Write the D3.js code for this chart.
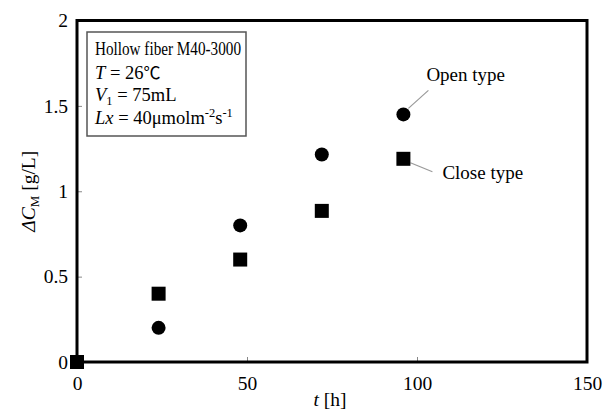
<!DOCTYPE html>
<html>
<head>
<meta charset="utf-8">
<script src="https://cdn.jsdelivr.net/npm/d3@7"></script>
<style>
  body { margin: 0; background: #fff; }
  svg text { font-family: "Liberation Serif", "Times New Roman", serif; }
</style>
</head>
<body>
<svg width="606" height="412"></svg>
<script>
// data
const times = [0, 24, 48, 72, 96]
const openType = [0, 0.2, 0.8, 1.215, 1.45]
const closeType = [0, 0.4, 0.6, 0.885, 1.19]
const xTicks = [0, 50, 100, 150]
const yTicks = [0, 0.5, 1, 1.5, 2]

const W = 606, H = 412
const margin = {top: 20.5, right: 19, bottom: 50, left: 77}
const svg = d3.select("svg")

const x = d3.scaleLinear().domain([0, 150]).range([margin.left, W - margin.right])
const y = d3.scaleLinear().domain([0, 2]).range([H - margin.bottom, margin.top])

// inside ticks
const xAxis = svg.append("g")
  .attr("transform", `translate(0,${y(0)})`)
  .call(d3.axisBottom(x).tickValues(xTicks).tickSize(-5).tickSizeOuter(0).tickPadding(14).tickFormat(d3.format("")))
const yAxis = svg.append("g")
  .attr("transform", `translate(${x(0)},0)`)
  .call(d3.axisLeft(y).tickValues(yTicks).tickSize(-5).tickSizeOuter(0).tickPadding(9).tickFormat(d3.format("")))

for (const a of [xAxis, yAxis]) {
  a.attr("font-family", null)
  a.select(".domain").remove()
  a.selectAll(".tick line").attr("stroke", "#888").attr("stroke-width", 1)
  a.selectAll(".tick text").attr("font-size", 19.5).attr("fill", "#000")
}

// frame
svg.append("rect")
  .attr("x", x(0)).attr("y", y(2))
  .attr("width", x(150) - x(0)).attr("height", y(0) - y(2))
  .attr("fill", "none").attr("stroke", "#000").attr("stroke-width", 3)

// leader lines
svg.append("line")
  .attr("x1", x(96) + 5).attr("y1", y(openType[4]) - 6)
  .attr("x2", x(96) + 25).attr("y2", y(openType[4]) - 24)
  .attr("stroke", "#999").attr("stroke-width", 1.2)
svg.append("line")
  .attr("x1", x(96) + 7).attr("y1", y(closeType[4]) + 4)
  .attr("x2", x(96) + 29).attr("y2", y(closeType[4]) + 13)
  .attr("stroke", "#999").attr("stroke-width", 1.2)

// points
svg.selectAll("circle.open")
  .data(times.map((t, i) => [t, openType[i]]))
  .join("circle")
  .attr("class", "open")
  .attr("cx", d => x(d[0])).attr("cy", d => y(d[1]))
  .attr("r", 7).attr("fill", "#000")

const sq = 14
svg.selectAll("rect.close")
  .data(times.map((t, i) => [t, closeType[i]]))
  .join("rect")
  .attr("class", "close")
  .attr("x", d => x(d[0]) - sq / 2).attr("y", d => y(d[1]) - sq / 2)
  .attr("width", sq).attr("height", sq).attr("fill", "#000")

// series labels
svg.append("text")
  .attr("x", x(96) + 23).attr("y", 81)
  .attr("font-size", 19).text("Open type")
svg.append("text")
  .attr("x", x(96) + 39).attr("y", 179)
  .attr("font-size", 19).text("Close type")

// condition box
svg.append("rect")
  .attr("x", 87).attr("y", 32).attr("width", 159).attr("height", 104)
  .attr("fill", "#fff").attr("stroke", "#555").attr("stroke-width", 1.5)

const box = svg.append("g").attr("font-size", 18.5)
box.append("text").attr("x", 95).attr("y", 55)
  .attr("textLength", 146).attr("lengthAdjust", "spacingAndGlyphs")
  .text("Hollow fiber M40-3000")
let t2 = box.append("text").attr("x", 95).attr("y", 79)
t2.append("tspan").attr("font-style", "italic").text("T")
t2.append("tspan").text(" = 26")
t2.append("tspan").attr("font-family", "Noto Sans CJK JP").attr("font-size", 17).text("℃")
let t3 = box.append("text").attr("x", 95).attr("y", 101)
t3.append("tspan").attr("font-style", "italic").text("V")
t3.append("tspan").attr("font-size", 12.5).attr("dy", 4).text("1")
t3.append("tspan").attr("dy", -4).text(" = 75mL")
let t4 = box.append("text").attr("x", 95).attr("y", 124)
t4.append("tspan").attr("font-style", "italic").text("Lx")
t4.append("tspan").text(" = 40μmolm")
t4.append("tspan").attr("font-size", 12.5).attr("dy", -7).text("-2")
t4.append("tspan").attr("dy", 7).text("s")
t4.append("tspan").attr("font-size", 12.5).attr("dy", -7).text("-1")

// axis titles
let xt = svg.append("text")
  .attr("x", 330).attr("y", 406).attr("text-anchor", "middle").attr("font-size", 19.5)
xt.append("tspan").attr("font-style", "italic").text("t")
xt.append("tspan").text(" [h]")

let yt = svg.append("text")
  .attr("transform", `translate(35,${(y(0) + y(2)) / 2}) rotate(-90)`)
  .attr("text-anchor", "middle").attr("font-size", 19.5)
yt.append("tspan").attr("font-style", "italic").text("ΔC")
yt.append("tspan").attr("font-size", 13).attr("dy", 4).text("M")
yt.append("tspan").attr("dy", -4).text("  [g/L]")
</script>
</body>
</html>
